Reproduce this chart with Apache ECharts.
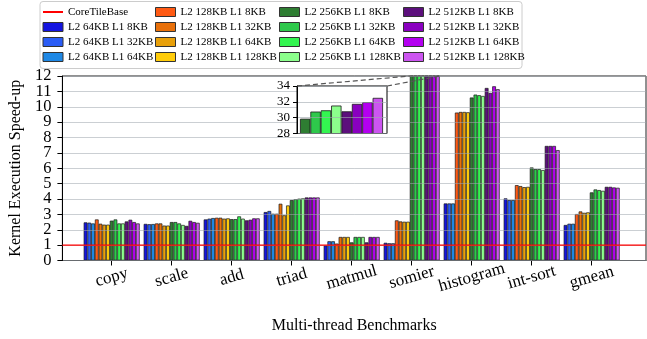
<!DOCTYPE html>
<html><head><meta charset="utf-8">
<script src="https://cdn.jsdelivr.net/npm/echarts@6/dist/echarts.min.js"></script>
<style>html,body{margin:0;padding:0;background:#fff}#c{width:647px;height:339px}</style>
</head><body><div id="c"></div>
<script>
const categories = ['copy','scale','add','triad','matmul','somier','histogram','int-sort','gmean'];
const configNames = [
  'L2 64KB L1 8KB','L2 64KB L1 32KB','L2 64KB L1 64KB',
  'L2 128KB L1 8KB','L2 128KB L1 32KB','L2 128KB L1 64KB','L2 128KB L1 128KB',
  'L2 256KB L1 8KB','L2 256KB L1 32KB','L2 256KB L1 64KB','L2 256KB L1 128KB',
  'L2 512KB L1 8KB','L2 512KB L1 32KB','L2 512KB L1 64KB','L2 512KB L1 128KB'];
const baselineName = 'CoreTileBase';
const baselineValue = 1;
// values per benchmark, in configNames order
const copy      = [2.48,2.46,2.41,2.67,2.39,2.33,2.33,2.59,2.67,2.41,2.41,2.54,2.65,2.50,2.41];
const scale     = [2.38,2.36,2.37,2.41,2.41,2.27,2.27,2.50,2.50,2.41,2.31,2.25,2.58,2.50,2.45];
const add       = [2.67,2.72,2.76,2.78,2.78,2.72,2.74,2.69,2.69,2.87,2.72,2.61,2.65,2.74,2.74];
const triad     = [3.15,3.22,3.04,3.04,3.69,2.94,3.58,3.93,3.99,4.02,4.04,4.10,4.10,4.10,4.10];
const matmul    = [0.98,1.25,1.25,1.10,1.53,1.53,1.53,1.18,1.53,1.53,1.53,1.18,1.53,1.53,1.53];
const somier    = [1.15,1.12,1.12,2.61,2.54,2.52,2.52,29.87,30.77,30.93,31.53,30.80,31.74,31.96,32.50];
const histogram = [3.71,3.71,3.71,9.62,9.66,9.66,9.64,10.60,10.79,10.75,10.70,11.22,10.90,11.33,11.14];
const intSort   = [4.04,3.93,3.93,4.90,4.84,4.77,4.79,6.05,5.94,5.94,5.88,7.45,7.45,7.45,7.18];
const gmean     = [2.31,2.39,2.39,3.02,3.19,3.10,3.13,4.43,4.62,4.58,4.53,4.79,4.79,4.75,4.73];
const benchData = [copy, scale, add, triad, matmul, somier, histogram, intSort, gmean];
const yMain = {min: 0, max: 12, interval: 1};
const yInset = {min: 28, max: 34, interval: 2};
const insetFirst = 7; // inset shows the somier bars from this config on

const colors = ['#1414e0','#2a5cf5','#1e88e5','#ff5a14','#e8700a','#e8a00a','#ffcc0a',
  '#2e7d32','#2ec84b','#33f550','#8cff8c','#5c0f7c','#8a00c0','#b400f0','#cc55f0'];

const F = 'Liberation Serif';
const P = {l: 57, t: 76, r: 646, b: 260.5};
const band = 60, barL = 81.7, barW = band * categories.length;
const I = {l: 297, t: 86, w: 90, h: 47.5, bl: 300, bw: 83};

const chart = echarts.init(document.getElementById('c'), null, {renderer: 'canvas'});
const hidden = {show: false};
const series = configNames.map((n, i) => ({
  name: n, type: 'bar', xAxisIndex: 1, yAxisIndex: 1,
  barGap: '0%', barCategoryGap: '6.7%', z: 2,
  itemStyle: {color: colors[i], borderColor: '#1a1a1a', borderWidth: 0.7},
  data: benchData.map(b => b[i])
}));
series.push({
  name: baselineName, type: 'line', xAxisIndex: 0, yAxisIndex: 0, z: 6,
  symbol: 'none', lineStyle: {color: '#ff0000', width: 1.2},
  itemStyle: {color: '#ff0000', opacity: 0},
  data: [[0, baselineValue], [1, baselineValue]]
});
series.push({
  name: 'inset', type: 'bar', xAxisIndex: 3, yAxisIndex: 3, z: 8,
  barCategoryGap: '0%',
  data: somier.slice(insetFirst).map((v, k) => ({value: v,
    itemStyle: {color: colors[insetFirst + k], borderColor: '#1a1a1a', borderWidth: 0.8}}))
});

const legendCols = [
  [baselineName].concat(configNames.slice(0, 3)),
  configNames.slice(3, 7), configNames.slice(7, 11), configNames.slice(11, 15)];
const legendLeft = [42, 155, 279, 403];
const legend = legendCols.map((d, ci) => ({
  orient: 'vertical', left: legendLeft[ci], top: 4.5, padding: 0,
  itemWidth: 20, itemHeight: 9, itemGap: 0,
  selectedMode: false,
  textStyle: {fontFamily: F, fontSize: 11, color: '#000', lineHeight: 15},
  data: d.map(n => n === baselineName ? {name: n, itemStyle: {opacity: 0}} :
    {name: n, icon: 'rect', itemStyle: {borderWidth: 1, borderColor: '#333'}})
}));

const axisLbl = {fontFamily: F, color: '#000'};
// y labels split over two label-only axes (even / odd) so none overlap and all are shown
const yLabel = (parity) => Object.assign({fontSize: 16.5, margin: 11, showMinLabel: true, showMaxLabel: true,
  formatter: v => (Math.round(v) % 2 === parity ? String(v) : '')}, axisLbl);
const option = {
  animation: false,
  backgroundColor: '#fff',
  legend: legend,
  grid: [
    {left: P.l, top: P.t, width: P.r - P.l, height: P.b - P.t, show: true,
     borderColor: '#222', borderWidth: 1, backgroundColor: 'transparent', z: 4},
    {left: barL, top: P.t, width: barW, height: P.b - P.t},
    {left: I.l, top: I.t, width: I.w, height: I.h, show: true,
     borderColor: '#000', borderWidth: 1, backgroundColor: '#fff', z: 7},
    {left: I.bl, top: I.t, width: I.bw, height: I.h}
  ],
  xAxis: [
    {gridIndex: 0, type: 'value', min: 0, max: 1, axisLabel: hidden, axisTick: hidden, splitLine: hidden,
     axisLine: {lineStyle: {color: '#000', width: 1}},
     name: 'Multi-thread Benchmarks', nameLocation: 'middle', nameGap: 57,
     nameTextStyle: {fontFamily: F, fontSize: 16, color: '#000'}},
    {gridIndex: 1, type: 'category', data: categories, boundaryGap: true,
     axisLine: hidden, splitLine: hidden,
     axisTick: {show: true, alignWithLabel: true, length: 5, lineStyle: {color: '#000'}},
     axisLabel: Object.assign({fontSize: 17, rotate: 16, align: 'center', verticalAlign: 'middle', margin: 17, interval: 0}, axisLbl)},
    {gridIndex: 2, type: 'value', min: 0, max: 1, show: false},
    {gridIndex: 3, type: 'category', data: configNames.slice(insetFirst), boundaryGap: true, show: false}
  ],
  yAxis: [
    {gridIndex: 0, type: 'value', position: 'left', offset: 0,
     min: yMain.min, max: yMain.max, interval: yMain.interval, z: 5,
     axisLine: {show: true, lineStyle: {color: '#000'}},
     axisTick: {show: true, length: 5, lineStyle: {color: '#000'}},
     axisLabel: yLabel(0),
     splitLine: {show: true, lineStyle: {color: 'rgba(160,168,175,0.55)', width: 1}},
     name: 'Kernel Execution Speed-up', nameLocation: 'middle', nameGap: 36,
     nameTextStyle: {fontFamily: F, fontSize: 16, color: '#000'}},
    {gridIndex: 1, type: 'value', min: yMain.min, max: yMain.max, show: false},
    {gridIndex: 2, type: 'value', min: yInset.min, max: yInset.max, interval: yInset.interval, z: 9,
     axisLine: {show: true, lineStyle: {color: '#000'}},
     axisTick: {show: true, length: 4, lineStyle: {color: '#000'}},
     axisLabel: Object.assign({fontSize: 13, margin: 7, showMinLabel: true, showMaxLabel: true}, axisLbl),
     splitLine: {show: true, lineStyle: {color: 'rgba(160,168,175,0.6)', width: 1}}},
    {gridIndex: 3, type: 'value', min: yInset.min, max: yInset.max, show: false},
    {gridIndex: 0, type: 'value', position: 'left', offset: 0,
     min: yMain.min, max: yMain.max, interval: yMain.interval, z: 5,
     axisLine: hidden, axisTick: hidden, splitLine: hidden,
     axisLabel: yLabel(1)}
  ],
  series: series
};
chart.setOption(option);

// inset connector lines (decoration), from inset top corners to the zoomed bars' region
const somierIdx = categories.indexOf('somier');
const groupStart = barL + band * somierIdx + band * 0.067 / 2;
const barPx = band * (1 - 0.067) / configNames.length;
const zoomL = groupStart + barPx * insetFirst, zoomR = groupStart + barPx * configNames.length;
chart.setOption({
  graphic: [
    {type: 'rect', z: 0, shape: {x: 40, y: 1.5, width: 482, height: 67, r: 3},
     style: {fill: '#fff', stroke: '#cccccc', lineWidth: 1}},
    {type: 'line', z: 100, shape: {x1: I.l, y1: I.t, x2: zoomL, y2: P.t},
     style: {stroke: '#555', lineWidth: 1.2, lineDash: [5, 3]}},
    {type: 'line', z: 100, shape: {x1: I.l + I.w, y1: I.t, x2: zoomR, y2: P.t},
     style: {stroke: '#555', lineWidth: 1.2, lineDash: [5, 3]}}
  ]
});
</script></body></html>
